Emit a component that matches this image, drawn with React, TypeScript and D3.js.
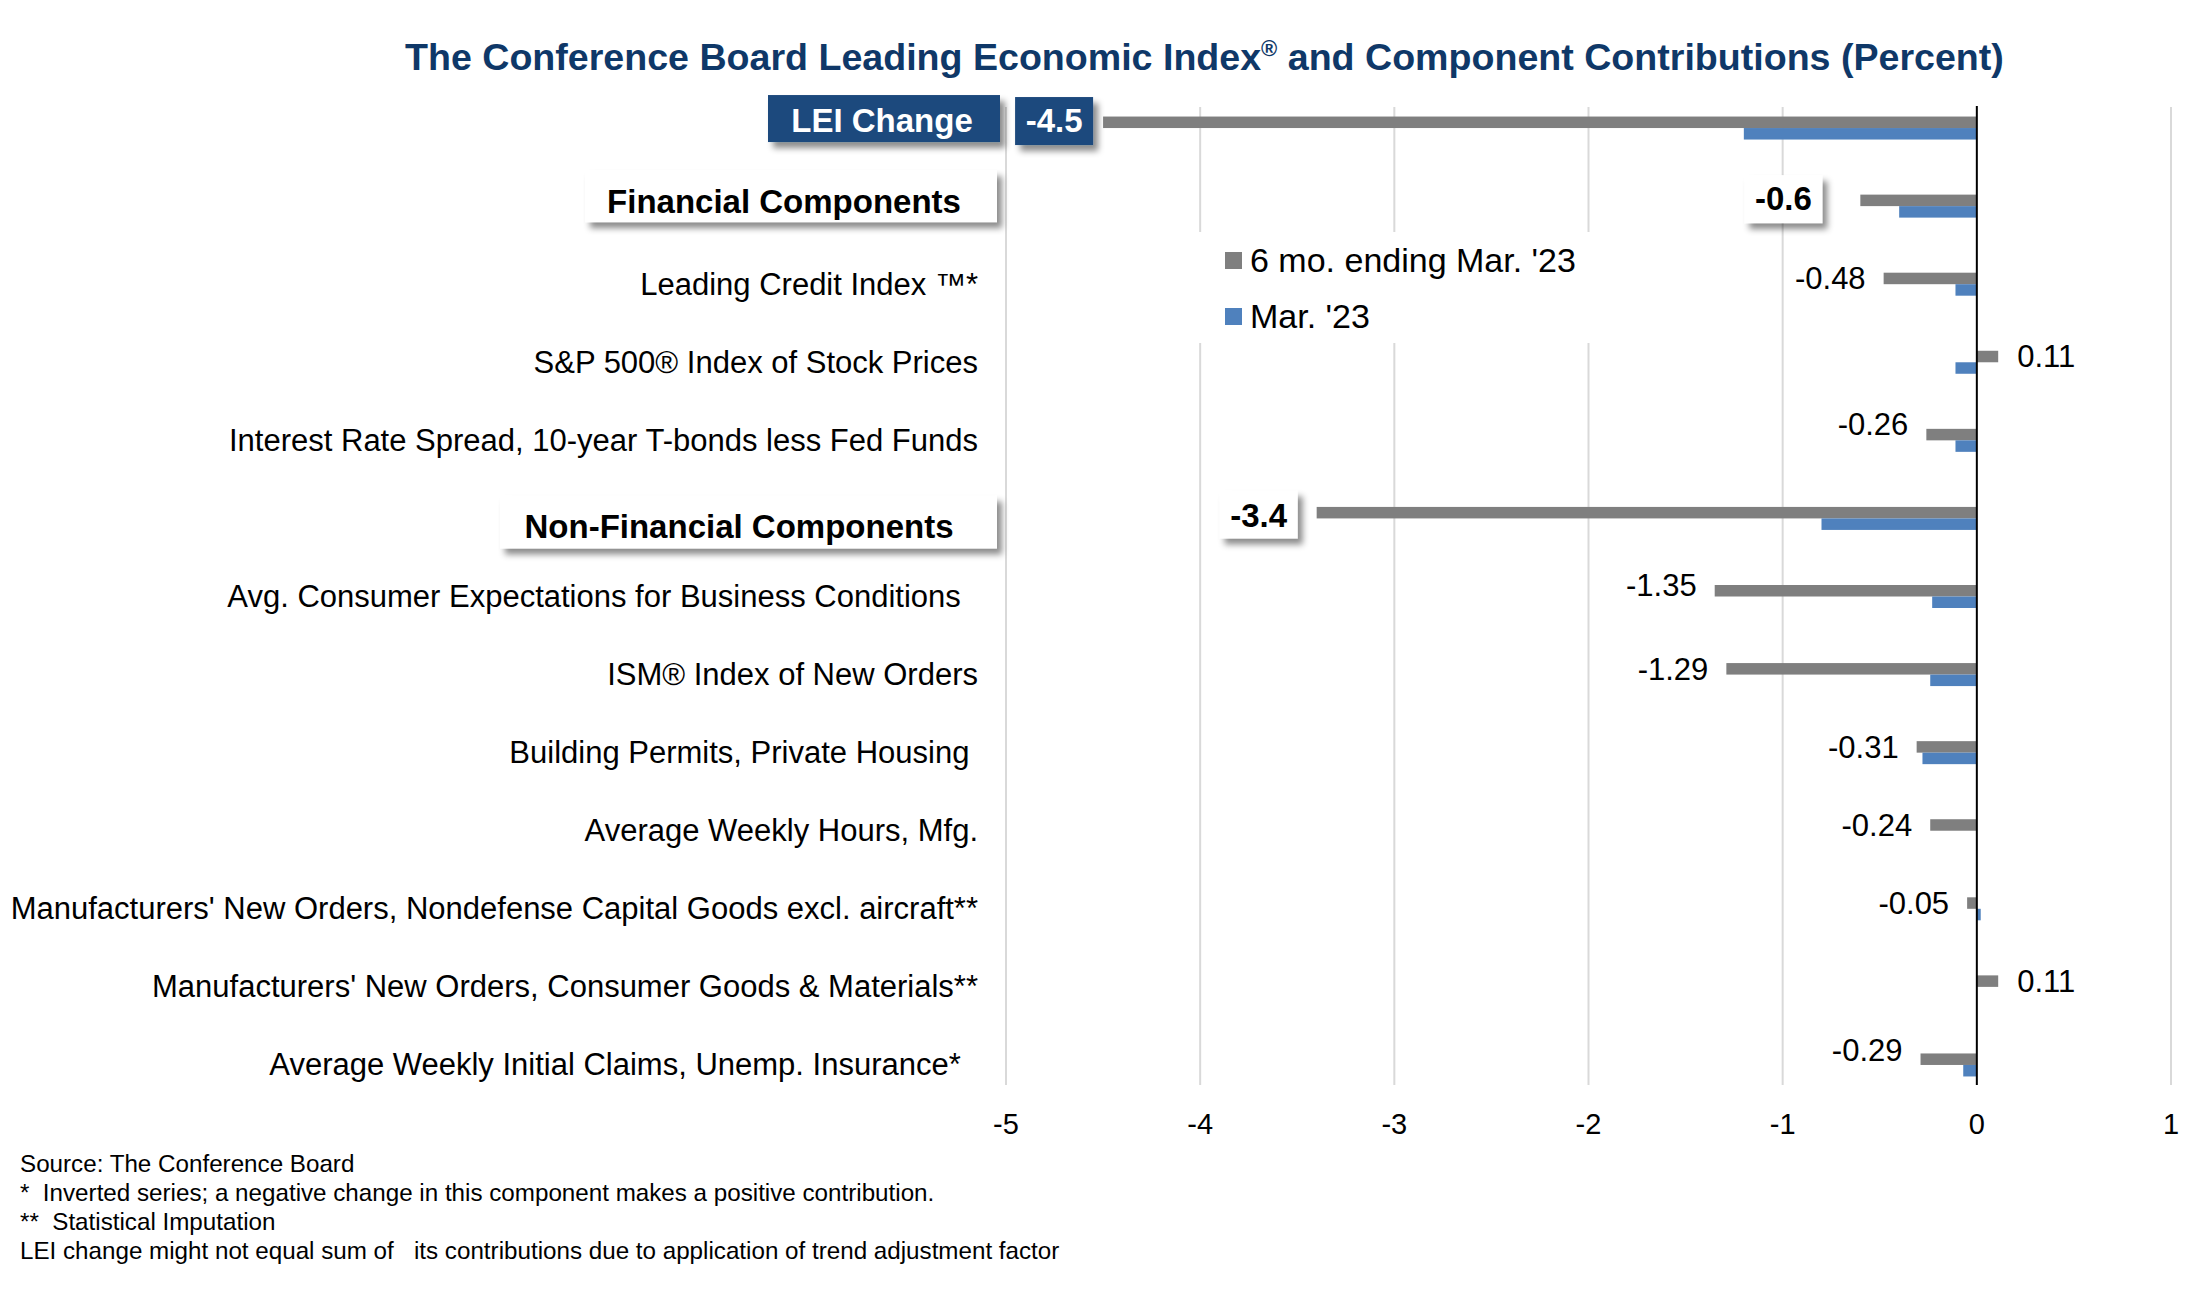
import React from 'react';
import * as d3 from 'd3';

// ---------- data ----------
const categories = [
  "LEI Change",
  "Financial Components",
  "Leading Credit Index \u2122*",
  "S&P 500\u00ae Index of Stock Prices",
  "Interest Rate Spread, 10-year T-bonds less Fed Funds",
  "Non-Financial Components",
  "Avg. Consumer Expectations for Business Conditions  ",
  "ISM\u00ae Index of New Orders",
  "Building Permits, Private Housing ",
  "Average Weekly Hours, Mfg.",
  "Manufacturers' New Orders, Nondefense Capital Goods excl. aircraft**",
  "Manufacturers' New Orders, Consumer Goods & Materials**",
  "Average Weekly Initial Claims, Unemp. Insurance*  ",
];
const sixMonth = [-4.5, -0.6, -0.48, 0.11, -0.26, -3.4, -1.35, -1.29, -0.31, -0.24, -0.05, 0.11, -0.29];
const march = [-1.2, -0.4, -0.11, -0.11, -0.11, -0.8, -0.23, -0.24, -0.28, 0, 0.02, 0, -0.07];
const sixMonthLabels = ["-4.5", "-0.6", "-0.48", "0.11", "-0.26", "-3.4", "-1.35", "-1.29", "-0.31", "-0.24", "-0.05", "0.11", "-0.29"];
const headingRows = ["LEI Change", "Financial Components", "Non-Financial Components"];
const xTicks = [-5, -4, -3, -2, -1, 0, 1];
const seriesNames = ["6 mo. ending Mar. '23", "Mar. '23"];
const titleParts = ["The Conference Board Leading Economic Index", "\u00ae", " and Component Contributions (Percent)"];
const footnotes = [
  "Source: The Conference Board",
  "*  Inverted series; a negative change in this component makes a positive contribution.",
  "**  Statistical Imputation",
  "LEI change might not equal sum of   its contributions due to application of trend adjustment factor",
];

// ---------- layout / style ----------
const W = 2200, H = 1300;
const FONT = "'Liberation Sans', Arial, Helvetica, sans-serif";
const GRAY = "#7F7F7F";
const BLUE = "#4F81BD";
const NAVY = "#1F497D";
const TITLE = "#0F3868";
const plotTop = 107, plotBottom = 1085;
const labelRight = 978;

// heading box layout (relative to row centre)
const headingBox: Record<string, { x0: number; x1: number; tx: number; dy0: number; h: number; base: number; fill: string; color: string; size: number }> = {
  "LEI Change": { x0: 768, x1: 1000, tx: 882, dy0: -33, h: 47, base: 4, fill: NAVY, color: "#fff", size: 33 },
  "Financial Components": { x0: 585, x1: 997, tx: 784, dy0: -36, h: 52, base: 7, fill: "#fff", color: "#000", size: 33 },
  "Non-Financial Components": { x0: 500, x1: 997, tx: 739, dy0: -23, h: 53, base: 20, fill: "#fff", color: "#000", size: 33 },
};
// boxed value labels
const valueBox: Record<string, { gap: number; dy0: number; base: number; fill: string; color: string }> = {
  "LEI Change": { gap: 10, dy0: -31, base: 4, fill: NAVY, color: "#fff" },
  "Financial Components": { gap: 38, dy0: -31, base: 4, fill: "#fff", color: "#000" },
  "Non-Financial Components": { gap: 19, dy0: -28, base: 9, fill: "#fff", color: "#000" },
};
const labelNudge: Record<number, number> = { 4: -10, 6: -6, 12: -9 };

export default function App() {
  const x = d3.scaleLinear().domain([-5, 1]).range([1006, 2171]);
  const y = d3.scaleBand<string>().domain(categories).range([89, 1104]).paddingInner(0).paddingOuter(0);
  const sub = d3.scaleBand<string>().domain(seriesNames).range([-11.5, 11.5]).paddingInner(0);
  const cy = (c: string) => (y(c) as number) + y.bandwidth() / 2;
  const barH = sub.bandwidth();

  return (
    <svg width={W} height={H} viewBox={`0 0 ${W} ${H}`} style={{ position: 'absolute', left: 0, top: 0, background: '#fff' }} fontFamily={FONT}>
      <defs>
        <filter id="shadow" x="-20%" y="-30%" width="150%" height="180%">
          <feDropShadow dx="5" dy="6" stdDeviation="3" floodColor="#000" floodOpacity="0.45" />
        </filter>
      </defs>
      <rect x={0} y={0} width={W} height={H} fill="#fff" />

      {/* title */}
      <text x={405} y={70} fontSize={37.6} fontWeight="bold" fill={TITLE}>
        <tspan>{titleParts[0]}</tspan>
        <tspan fontSize={22} dy={-14}>{titleParts[1]}</tspan>
        <tspan dy={14}>{titleParts[2]}</tspan>
      </text>

      {/* gridlines */}
      {xTicks.filter(t => t !== 0).map(t => (
        <line key={t} x1={x(t)} x2={x(t)} y1={plotTop} y2={plotBottom} stroke="#D9D9D9" strokeWidth={2} />
      ))}

      {/* legend background + items */}
      <rect x={1190} y={232} width={410} height={111} fill="#fff" />
      {seriesNames.map((s, i) => (
        <g key={s}>
          <rect x={1225} y={252 + i * 56} width={17} height={17} fill={i === 0 ? GRAY : BLUE} />
          <text x={1250} y={272 + i * 56} fontSize={34} fill="#000">{s}</text>
        </g>
      ))}

      {/* bars */}
      {categories.map((c, i) => {
        const vals = [sixMonth[i], march[i]];
        return vals.map((v, j) => (
          <rect key={c + j}
            x={Math.min(x(0), x(v))}
            width={Math.abs(x(v) - x(0))}
            y={cy(c) + (sub(seriesNames[j]) as number)}
            height={barH}
            fill={j === 0 ? GRAY : BLUE} />
        ));
      })}

      {/* zero line */}
      <line x1={x(0)} x2={x(0)} y1={plotTop - 1} y2={plotBottom} stroke="#000" strokeWidth={2} />

      {/* x tick labels */}
      {xTicks.map(t => (
        <text key={t} x={x(t)} y={1134} fontSize={29} textAnchor="middle" fill="#000">{t}</text>
      ))}

      {/* category labels */}
      {categories.map((c) => {
        if (headingRows.includes(c)) return null;
        return (
          <text key={c} x={labelRight} y={cy(c) + 10.5} fontSize={31} textAnchor="end" fill="#000" style={{ whiteSpace: 'pre' }}>{c}</text>
        );
      })}

      {/* heading boxes */}
      {headingRows.map(h => {
        const b = headingBox[h];
        const c = cy(h);
        return (
          <g key={h}>
            <rect x={b.x0} y={c + b.dy0} width={b.x1 - b.x0} height={b.h} fill={b.fill} filter="url(#shadow)" />
            <text x={b.tx} y={c + b.base} fontSize={b.size} fontWeight="bold" textAnchor="middle" fill={b.color}>{h}</text>
          </g>
        );
      })}

      {/* value labels */}
      {categories.map((c, i) => {
        const v = sixMonth[i];
        const c0 = cy(c);
        if (headingRows.includes(c)) {
          const b = valueBox[c];
          const right = x(v) - b.gap;
          const bw = 78, bh = 48;
          return (
            <g key={'v' + c}>
              <rect x={right - bw} y={c0 + b.dy0} width={bw} height={bh} fill={b.fill} filter="url(#shadow)" />
              <text x={right - bw / 2} y={c0 + b.base} fontSize={33} fontWeight="bold" textAnchor="middle" fill={b.color}>{sixMonthLabels[i]}</text>
            </g>
          );
        }
        const gy = c0 - 6 + 11 + (labelNudge[i] || 0);
        const neg = v < 0;
        return (
          <text key={'v' + c} x={neg ? x(v) - 18 : x(v) + 19} y={gy} fontSize={31} textAnchor={neg ? 'end' : 'start'} fill="#000">{sixMonthLabels[i]}</text>
        );
      })}

      {/* footnotes */}
      {footnotes.map((f, i) => (
        <text key={i} x={20} y={1172 + i * 29} fontSize={24.2} fill="#000" style={{ whiteSpace: 'pre' }}>{f}</text>
      ))}
    </svg>
  );
}
